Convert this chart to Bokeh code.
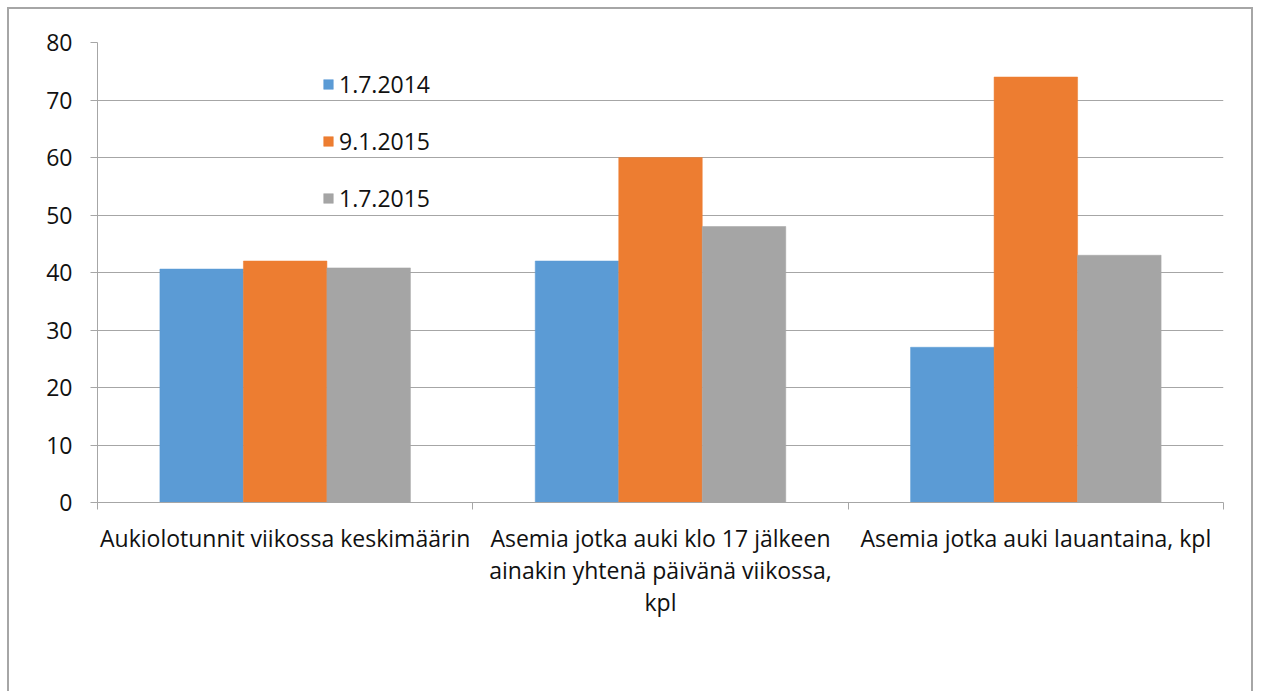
from bokeh.plotting import figure
from bokeh.models import (ColumnDataSource, FixedTicker, Range1d, Legend, LegendItem)
from bokeh.embed import file_html
from bokeh.resources import INLINE

categories = [
    "Aukiolotunnit viikossa keskimäärin",
    "Asemia jotka auki klo 17 jälkeen\nainakin yhtenä päivänä viikossa,\nkpl",
    "Asemia jotka auki lauantaina, kpl",
]
series_names = ["1.7.2014", "9.1.2015", "1.7.2015"]
values_2014_07 = [40.6, 42, 27]
values_2015_01 = [42, 60, 74]
values_2015_07 = [40.8, 48, 43]
y_ticks = [0, 10, 20, 30, 40, 50, 60, 70, 80]

colors = ["#5B9BD5", "#ED7D31", "#A5A5A5"]
FONT = "Open Sans"
FS = "23px"
TXT = "#111111"
GRID = "#a6a6a6"

p = figure(width=1246, height=684, output_backend="svg", toolbar_location=None,
           x_range=Range1d(0, 3), y_range=Range1d(0, 80),
           min_border_left=88, min_border_right=32, min_border_top=33, min_border_bottom=191)
p.outline_line_color = None
p.background_fill_color = "white"
p.border_fill_color = "white"
p.styles = {"border-top": "2px solid #a6a6a6", "border-left": "2px solid #a6a6a6",
            "border-right": "2px solid #a6a6a6", "border-bottom": "0px none",
            "margin-left": "7px", "margin-top": "7px"}

centers = [i + 0.5 for i in range(len(categories))]
bar_w = 0.2225
series = [values_2014_07, values_2015_01, values_2015_07]
items = []
for k, (vals, name, col) in enumerate(zip(series, series_names, colors)):
    xs = [c + (k - 1) * bar_w for c in centers]
    src = ColumnDataSource(dict(x=xs, top=vals))
    r = p.vbar(x="x", top="top", bottom=0, width=bar_w, source=src,
               fill_color=col, line_color=col, line_width=0.5)
    items.append(LegendItem(label=name, renderers=[r]))

legend = Legend(items=items, location=(225, 288), orientation="vertical",
                background_fill_alpha=0, border_line_color=None,
                glyph_width=12, glyph_height=12, label_height=22,
                label_standoff=5, spacing=25, padding=0, margin=0,
                label_text_font=FONT, label_text_font_size=FS,
                label_text_color=TXT)
p.add_layout(legend, "center")

# y axis
p.yaxis.ticker = FixedTicker(ticks=y_ticks)
p.yaxis.axis_line_color = GRID
p.yaxis.major_tick_line_color = GRID
p.yaxis.major_tick_out = 7
p.yaxis.major_tick_in = 0
p.yaxis.minor_tick_line_color = None
p.yaxis.major_label_standoff = 18
p.yaxis.major_label_text_font = FONT
p.yaxis.major_label_text_font_size = FS
p.yaxis.major_label_text_color = TXT

# x axis: labels at category centres, tick marks at category boundaries
p.xaxis.ticker = FixedTicker(ticks=centers, minor_ticks=[0, 1, 2, 3])
p.xaxis.major_label_overrides = {c: lab for c, lab in zip(centers, categories)}
p.xaxis.axis_line_color = GRID
p.xaxis.major_tick_line_color = None
p.xaxis.major_tick_out = 0
p.xaxis.major_tick_in = 0
p.xaxis.minor_tick_line_color = GRID
p.xaxis.minor_tick_out = 7
p.xaxis.minor_tick_in = 0
p.xaxis.major_label_standoff = 12
p.xaxis.major_label_text_font = FONT
p.xaxis.major_label_text_font_size = FS
p.xaxis.major_label_text_line_height = 1.0
p.xaxis.major_label_text_color = TXT
p.xaxis.major_label_text_align = "center"

p.xgrid.grid_line_color = None
p.ygrid.grid_line_color = GRID
p.ygrid.grid_line_width = 1

open("out.html", "w").write(file_html(p, INLINE))
